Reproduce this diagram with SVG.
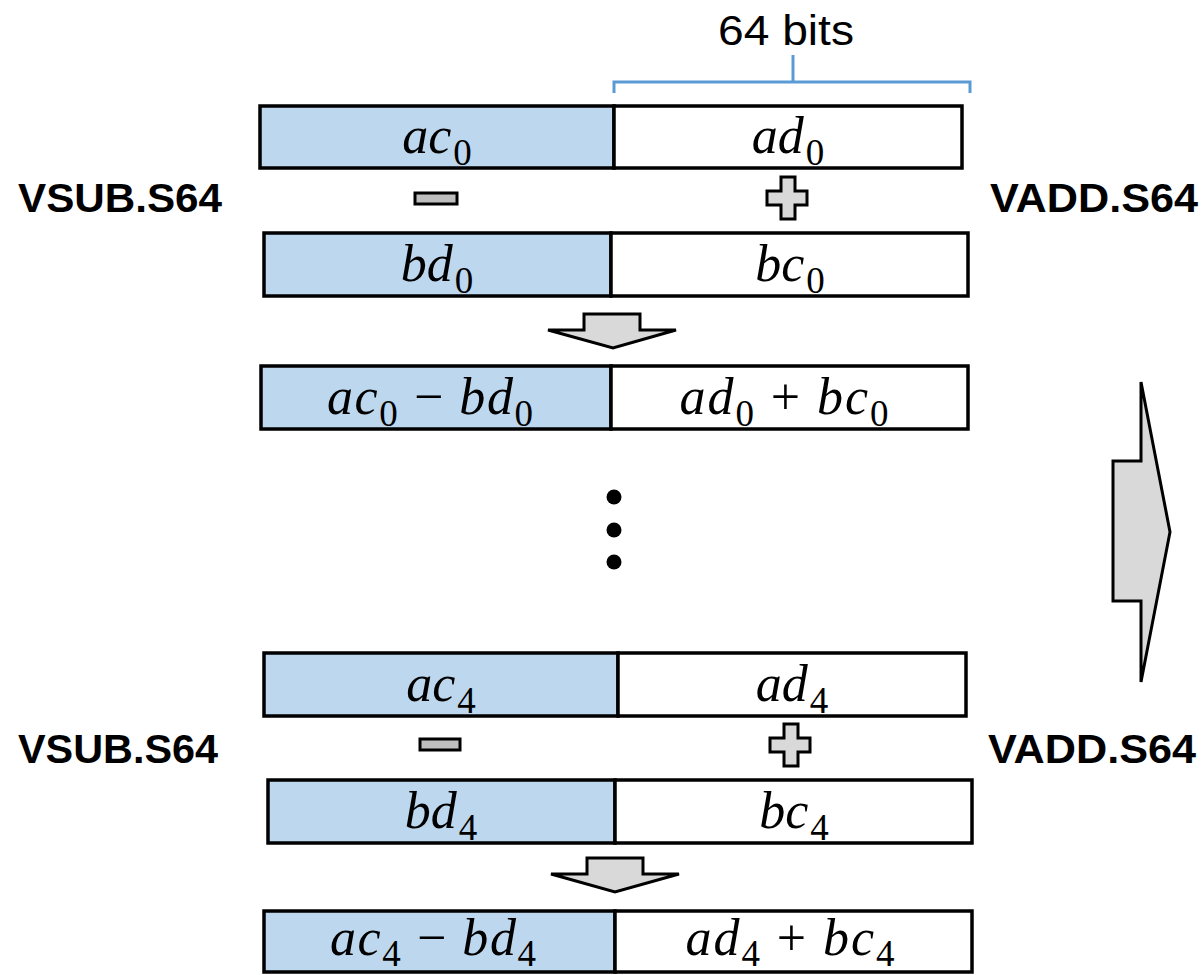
<svg xmlns="http://www.w3.org/2000/svg" width="1204" height="975" viewBox="0 0 1204 975">
  <style>
    .cell { stroke: #000; stroke-width: 3.5; }
    .lo { fill: #bdd7ee; }
    .hi { fill: #ffffff; }
    .math { font-family: "Liberation Serif", "DejaVu Serif", serif; font-style: italic; font-size: 52px; text-anchor: middle; fill: #000; }
    .sub { font-style: normal; font-size: 37px; }
    .op { font-style: normal; }
    .instr { font-family: "Liberation Sans", Arial, sans-serif; font-weight: bold; font-size: 40px; fill: #000; }
    .lbl { font-family: "Liberation Sans", Arial, sans-serif; font-size: 42px; fill: #000; text-anchor: middle; }
    .sym { stroke: #000; stroke-width: 3; }
    .arrow { fill: #d9d9d9; stroke: #000; stroke-width: 3; stroke-linejoin: miter; }
  </style>

  <!-- width bracket over the upper 64-bit lane -->
  <g id="bits-label">
    <path d="M614,93 V82 H970 V93 M793,82 V55" fill="none" stroke="#5b9bd5" stroke-width="3"/>
    <text class="lbl" x="786" y="45" textLength="136" lengthAdjust="spacingAndGlyphs">64 bits</text>
  </g>

  <!-- instruction names -->
  <g id="instr-labels">
    <text class="instr" x="18" y="212" textLength="204" lengthAdjust="spacingAndGlyphs">VSUB.S64</text>
    <text class="instr" x="990" y="212" textLength="208" lengthAdjust="spacingAndGlyphs">VADD.S64</text>
    <text class="instr" x="18" y="763" textLength="200" lengthAdjust="spacingAndGlyphs">VSUB.S64</text>
    <text class="instr" x="988" y="763" textLength="208" lengthAdjust="spacingAndGlyphs">VADD.S64</text>
  </g>

  <!-- first iteration -->
  <g id="reg-ac0-ad0">
    <rect class="cell lo" x="260" y="106" width="354" height="62"/>
    <rect class="cell hi" x="614" y="106" width="348" height="62"/>
    <text class="math" x="437" y="153">ac<tspan class="sub" dx="2" dy="12">0</tspan></text>
    <text class="math" x="788" y="153">ad<tspan class="sub" dx="2" dy="12">0</tspan></text>
  </g>
  <g id="op-sub-0">
    <rect class="sym" x="415" y="193" width="42" height="11" fill="#bfbfbf"/>
  </g>
  <g id="op-add-0">
    <path class="sym" d="M781,177 H795 V191 H807 V205 H795 V219 H781 V205 H767 V191 H781 Z" fill="#d9d9d9"/>
  </g>
  <g id="reg-bd0-bc0">
    <rect class="cell lo" x="264" y="233" width="347" height="63"/>
    <rect class="cell hi" x="611" y="233" width="357" height="63"/>
    <text class="math" x="437" y="281">bd<tspan class="sub" dx="2" dy="12">0</tspan></text>
    <text class="math" x="790" y="281">bc<tspan class="sub" dx="2" dy="12">0</tspan></text>
  </g>
  <g id="reg-res0">
    <rect class="cell lo" x="261" y="366" width="350" height="63"/>
    <rect class="cell hi" x="611" y="366" width="357" height="63"/>
    <text class="math" x="430" y="414" textLength="206">ac<tspan class="sub" dy="12">0</tspan><tspan class="op" dy="-12"> − </tspan>bd<tspan class="sub" dy="12">0</tspan></text>
    <text class="math" x="784" y="414" textLength="209">ad<tspan class="sub" dy="12">0</tspan><tspan class="op" dy="-12"> + </tspan>bc<tspan class="sub" dy="12">0</tspan></text>
  </g>

  <!-- elided iterations -->
  <g id="ellipsis" fill="#000">
    <circle cx="614" cy="497" r="7.5"/>
    <circle cx="614" cy="530" r="7.5"/>
    <circle cx="614" cy="562" r="7.5"/>
  </g>

  <!-- last iteration -->
  <g id="reg-ac4-ad4">
    <rect class="cell lo" x="264" y="653" width="354" height="63"/>
    <rect class="cell hi" x="618" y="653" width="348" height="63"/>
    <text class="math" x="441" y="701">ac<tspan class="sub" dx="2" dy="12">4</tspan></text>
    <text class="math" x="792" y="701">ad<tspan class="sub" dx="2" dy="12">4</tspan></text>
  </g>
  <g id="op-sub-4">
    <rect class="sym" x="420" y="739" width="40" height="11" fill="#bfbfbf"/>
  </g>
  <g id="op-add-4">
    <path class="sym" d="M784,724 H798 V738 H810 V752 H798 V766 H784 V752 H770 V738 H784 Z" fill="#d9d9d9"/>
  </g>
  <g id="reg-bd4-bc4">
    <rect class="cell lo" x="268" y="780" width="347" height="63"/>
    <rect class="cell hi" x="615" y="780" width="357" height="63"/>
    <text class="math" x="441" y="828">bd<tspan class="sub" dx="2" dy="12">4</tspan></text>
    <text class="math" x="794" y="828">bc<tspan class="sub" dx="2" dy="12">4</tspan></text>
  </g>
  <g id="reg-res4">
    <rect class="cell lo" x="264" y="911" width="351" height="61"/>
    <rect class="cell hi" x="615" y="911" width="357" height="61"/>
    <text class="math" x="433" y="955" textLength="206">ac<tspan class="sub" dy="11">4</tspan><tspan class="op" dy="-11"> − </tspan>bd<tspan class="sub" dy="11">4</tspan></text>
    <text class="math" x="790" y="955" textLength="209">ad<tspan class="sub" dy="11">4</tspan><tspan class="op" dy="-11"> + </tspan>bc<tspan class="sub" dy="11">4</tspan></text>
  </g>

  <!-- flow arrows -->
  <g id="connectors">
    <path class="arrow" d="M584,314 H640 V330 H676 L613,348 L548,330 H584 Z"/>
    <path class="arrow" d="M587,858 H643 V874 H679 L615,892 L551,874 H587 Z"/>
    <path class="arrow" d="M1113,461 H1141 V382 L1170,532 L1141,682 V601 H1113 Z"/>
  </g>
</svg>
